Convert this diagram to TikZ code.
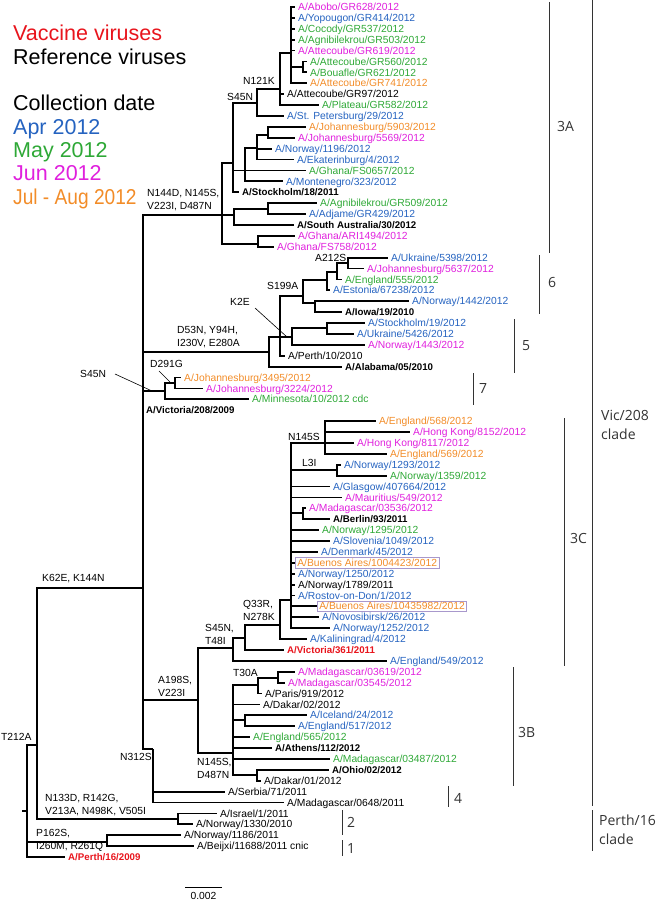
\documentclass[tikz,border=0pt]{standalone}
\usepackage{fontspec}
\setmainfont{Liberation Sans}
\newfontfamily\brfont{Open Sans}
\definecolor{cblue}{HTML}{2563C0}
\definecolor{cgreen}{HTML}{2EA836}
\definecolor{cmag}{HTML}{E020DD}
\definecolor{corange}{HTML}{F28C28}
\definecolor{cred}{HTML}{E8141C}
\definecolor{cbox}{HTML}{A898CC}
\definecolor{cbr}{HTML}{333333}
\begin{document}
\begin{tikzpicture}[x=1pt,y=-1pt,
  brn/.style={line width=1.8pt, black},
  lf/.style={anchor=west, inner xsep=3pt, inner ysep=0pt, text height=7.3pt, text depth=0pt, font=\fontsize{10.3}{12}\selectfont},
  refv/.style={lf, font=\fontsize{9.7}{12}\selectfont\bfseries},
  bxd/.style={lf, draw=cbox, line width=0.7pt, inner xsep=2pt, inner ysep=1.4pt, text depth=0.8pt},
  mut/.style={anchor=west, inner sep=0pt, align=left, font=\fontsize{10.3}{13}\selectfont},
  ptr/.style={line width=0.6pt},
  bkt/.style={line width=1pt, cbr},
  bkl/.style={anchor=west, inner sep=0pt, align=left, font=\brfont\fontsize{14}{19}\selectfont, text=cbr},
  leg/.style={anchor=base west, inner sep=0pt, font=\fontsize{21.5}{26}\selectfont}
]
\useasboundingbox (0,0) rectangle (660,901);
% legend
\node[leg,text=cred] (lg1) at (13,41) {Vaccine viruses};
\node[leg] (lg2) at (13,64.3) {Reference viruses};
\node[leg] (lg3) at (13,111) {Collection date};
\node[leg,text=cblue] (lg4) at (13,134.3) {Apr 2012};
\node[leg,text=cgreen] (lg5) at (13,157.6) {May 2012};
\node[leg,text=cmag] (lg6) at (13,180.9) {Jun 2012};
\node[leg,text=corange] (lg7) at (13,204.2) {\scalebox{0.89}[1]{Jul - Aug 2012}};
% internal nodes
\coordinate (nroot) at (27,811);
\coordinate (rstub) at (22,811);
\coordinate (nR37) at (37,745);
\coordinate (nVIC) at (143,588);
\coordinate (nH0) at (222,215);
\coordinate (nK) at (233,163);
\coordinate (nA) at (257,103);
\coordinate (nB) at (280,89);
\coordinate (nC) at (291,53);
\coordinate (nD) at (303,67);
\coordinate (nE) at (245,170.5);
\coordinate (nF) at (257,148);
\coordinate (nG) at (268,135);
\coordinate (nI) at (234,215);
\coordinate (nJ) at (268,209);
\coordinate (nH) at (258,244);
\coordinate (nM) at (269,352);
\coordinate (nL) at (280,337);
\coordinate (nS) at (303,296);
\coordinate (nU) at (327,280);
\coordinate (nV6) at (337,272);
\coordinate (nX6) at (348,263);
\coordinate (nW) at (315,303);
\coordinate (nT) at (292,337);
\coordinate (nY5) at (327,328);
\coordinate (nN7) at (165,391);
\coordinate (nO7) at (175,383);
\coordinate (nV) at (198,700);
\coordinate (nN45) at (233,648);
\coordinate (nU3) at (245,638);
\coordinate (nQ) at (280,625);
\coordinate (nR) at (291,600);
\coordinate (nN145) at (325,443);
\coordinate (nL3) at (337,470);
\coordinate (nMB) at (303,513);
\coordinate (nX) at (233,753);
\coordinate (nT30) at (258,685);
\coordinate (nMM) at (278,678);
\coordinate (nW3) at (245,720);
\coordinate (nOD) at (257,775);
\coordinate (nN312) at (153,749);
\coordinate (nN133) at (178,819);
\coordinate (nP162) at (107,842);
% leaves
\node[lf,text=cmag] (l1) at (295,7.0) {A/Abobo/GR628/2012};
\node[lf,text=cblue] (l2) at (295,17.9) {A/Yopougon/GR414/2012};
\node[lf,text=cgreen] (l3) at (295,28.8) {A/Cocody/GR537/2012};
\node[lf,text=cgreen] (l4) at (295,39.7) {A/Agnibilekrou/GR503/2012};
\node[lf,text=cmag] (l5) at (295,50.6) {A/Attecoube/GR619/2012};
\node[lf,text=cgreen] (l6) at (307,61.5) {A/Attecoube/GR560/2012};
\node[lf,text=cgreen] (l7) at (307,72.4) {A/Bouafle/GR621/2012};
\node[lf,text=corange] (l8) at (307,83.3) {A/Attecoube/GR741/2012};
\node[lf] (l9) at (284,94.2) {A/Attecoube/GR97/2012};
\node[lf,text=cgreen] (l10) at (319,105.1) {A/Plateau/GR582/2012};
\node[lf,text=cblue] (l11) at (284,116.0) {A/St. Petersburg/29/2012};
\node[lf,text=corange] (l12) at (306,126.9) {A/Johannesburg/5903/2012};
\node[lf,text=cmag] (l13) at (295,137.8) {A/Johannesburg/5569/2012};
\node[lf,text=cblue] (l14) at (272,148.7) {A/Norway/1196/2012};
\node[lf,text=cblue] (l15) at (294,159.6) {A/Ekaterinburg/4/2012};
\node[lf,text=cgreen] (l16) at (306,170.5) {A/Ghana/FS0657/2012};
\node[lf,text=cblue] (l17) at (283,181.4) {A/Montenegro/323/2012};
\node[refv] (l18) at (239,192.2) {A/Stockholm/18/2011};
\node[lf,text=cgreen] (l19) at (317,203.1) {A/Agnibilekrou/GR509/2012};
\node[lf,text=cblue] (l20) at (306,214.0) {A/Adjame/GR429/2012};
\node[refv] (l21) at (294,224.9) {A/South Australia/30/2012};
\node[lf,text=cmag] (l22) at (295,235.8) {A/Ghana/ARI1494/2012};
\node[lf,text=cmag] (l23) at (274,246.7) {A/Ghana/FS758/2012};
\node[lf,text=cblue] (l24) at (388,257.6) {A/Ukraine/5398/2012};
\node[lf,text=cmag] (l25) at (364,268.5) {A/Johannesburg/5637/2012};
\node[lf,text=cgreen] (l26) at (342,279.4) {A/England/555/2012};
\node[lf,text=cblue] (l27) at (330,290.3) {A/Estonia/67238/2012};
\node[lf,text=cblue] (l28) at (409,301.2) {A/Norway/1442/2012};
\node[refv] (l29) at (342,312.1) {A/Iowa/19/2010};
\node[lf,text=cblue] (l30) at (365,323.0) {A/Stockholm/19/2012};
\node[lf,text=cblue] (l31) at (354,333.9) {A/Ukraine/5426/2012};
\node[lf,text=cmag] (l32) at (365,344.8) {A/Norway/1443/2012};
\node[lf] (l33) at (285,355.7) {A/Perth/10/2010};
\node[refv] (l34) at (342,366.6) {A/Alabama/05/2010};
\node[lf,text=corange] (l35) at (181,377.5) {A/Johannesburg/3495/2012};
\node[lf,text=cmag] (l36) at (203,388.4) {A/Johannesburg/3224/2012};
\node[lf,text=cgreen] (l37) at (249,399.3) {A/Minnesota/10/2012 cdc};
\node[refv] (l38) at (143,410.2) {A/Victoria/208/2009};
\node[lf,text=corange] (l39) at (376,421.1) {A/England/568/2012};
\node[lf,text=cmag] (l40) at (410,432.0) {A/Hong Kong/8152/2012};
\node[lf,text=cmag] (l41) at (354,442.9) {A/Hong Kong/8117/2012};
\node[lf,text=corange] (l42) at (387,453.8) {A/England/569/2012};
\node[lf,text=cblue] (l43) at (341,464.7) {A/Norway/1293/2012};
\node[lf,text=cgreen] (l44) at (387,475.6) {A/Norway/1359/2012};
\node[lf,text=cblue] (l45) at (330,486.5) {A/Glasgow/407664/2012};
\node[lf,text=cmag] (l46) at (342,497.4) {A/Mauritius/549/2012};
\node[lf,text=cmag] (l47) at (306,508.3) {A/Madagascar/03536/2012};
\node[refv] (l48) at (330,519.2) {A/Berlin/93/2011};
\node[lf,text=cgreen] (l49) at (319,530.1) {A/Norway/1295/2012};
\node[lf,text=cblue] (l50) at (330,541.0) {A/Slovenia/1049/2012};
\node[lf,text=cblue] (l51) at (318,551.9) {A/Denmark/45/2012};
\node[bxd,text=corange] (l52) at (295,562.8) {A/Buenos Aires/1004423/2012};
\node[lf,text=cblue] (l53) at (295,573.7) {A/Norway/1250/2012};
\node[lf] (l54) at (295,584.6) {A/Norway/1789/2011};
\node[lf,text=cblue] (l55) at (295,595.4) {A/Rostov-on-Don/1/2012};
\node[bxd,text=corange] (l56) at (317,606.3) {A/Buenos Aires/10435982/2012};
\node[lf,text=cblue] (l57) at (319,617.2) {A/Novosibirsk/26/2012};
\node[lf,text=cblue] (l58) at (330,628.1) {A/Norway/1252/2012};
\node[lf,text=cblue] (l59) at (307,639.0) {A/Kaliningrad/4/2012};
\node[refv,text=cred] (l60) at (284,649.9) {A/Victoria/361/2011};
\node[lf,text=cblue] (l61) at (387,660.8) {A/England/549/2012};
\node[lf,text=cmag] (l62) at (295,671.7) {A/Madagascar/03619/2012};
\node[lf,text=cmag] (l63) at (285,682.6) {A/Madagascar/03545/2012};
\node[lf] (l64) at (262,693.5) {A/Paris/919/2012};
\node[lf] (l65) at (260,704.4) {A/Dakar/02/2012};
\node[lf,text=cblue] (l66) at (307,715.3) {A/Iceland/24/2012};
\node[lf,text=cblue] (l67) at (295,726.2) {A/England/517/2012};
\node[lf,text=cgreen] (l68) at (250,737.1) {A/England/565/2012};
\node[refv] (l69) at (272,748.0) {A/Athens/112/2012};
\node[lf,text=cgreen] (l70) at (330,758.9) {A/Madagascar/03487/2012};
\node[refv] (l71) at (329,769.8) {A/Ohio/02/2012};
\node[lf] (l72) at (261,780.7) {A/Dakar/01/2012};
\node[lf] (l73) at (225,791.6) {A/Serbia/71/2011};
\node[lf] (l74) at (284,802.5) {A/Madagascar/0648/2011};
\node[lf] (l75) at (217,813.4) {A/Israel/1/2011};
\node[lf] (l76) at (193,824.3) {A/Norway/1330/2010};
\node[lf] (l77) at (181,835.2) {A/Norway/1186/2011};
\node[lf] (l78) at (194,846.1) {A/Beijxi/11688/2011 cnic};
\node[refv,text=cred] (l79) at (65,857.0) {A/Perth/16/2009};
% branches
\draw[brn] (nroot) -- (rstub);
\draw[brn] (nroot) |- (nR37);
\draw[brn] (nroot) |- (nP162);
\draw[brn] (nroot) |- (l79.west);
\draw[brn] (nR37) |- (nVIC);
\draw[brn] (nR37) |- (nN133);
\foreach \c in {nH0,nM,nN7,l38.west,nV,nN312} \draw[brn] (nVIC) |- (\c);
\foreach \c in {nK,nI,nH} \draw[brn] (nH0) |- (\c);
\foreach \c in {nA,nE,l18.west} \draw[brn] (nK) |- (\c);
\foreach \c in {nB,l11.west} \draw[brn] (nA) |- (\c);
\foreach \c in {nC,l9.west,l10.west} \draw[brn] (nB) |- (\c);
\foreach \c in {l1.west,l2.west,l3.west,l4.west,l5.west,nD,l8.west} \draw[brn] (nC) |- (\c);
\foreach \c in {l6.west,l7.west} \draw[brn] (nD) |- (\c);
\foreach \c in {nF,l16.west,l17.west} \draw[brn] (nE) |- (\c);
\foreach \c in {nG,l14.west,l15.west} \draw[brn] (nF) |- (\c);
\foreach \c in {l12.west,l13.west} \draw[brn] (nG) |- (\c);
\foreach \c in {nJ,l21.west} \draw[brn] (nI) |- (\c);
\foreach \c in {l19.west,l20.west} \draw[brn] (nJ) |- (\c);
\foreach \c in {l22.west,l23.west} \draw[brn] (nH) |- (\c);
\foreach \c in {nL,l34.west} \draw[brn] (nM) |- (\c);
\foreach \c in {nS,nT,l33.west} \draw[brn] (nL) |- (\c);
\foreach \c in {nU,nW} \draw[brn] (nS) |- (\c);
\foreach \c in {nV6,l27.west} \draw[brn] (nU) |- (\c);
\foreach \c in {nX6,l26.west} \draw[brn] (nV6) |- (\c);
\foreach \c in {l24.west,l25.west} \draw[brn] (nX6) |- (\c);
\foreach \c in {l28.west,l29.west} \draw[brn] (nW) |- (\c);
\foreach \c in {nY5,l32.west} \draw[brn] (nT) |- (\c);
\foreach \c in {l30.west,l31.west} \draw[brn] (nY5) |- (\c);
\foreach \c in {nO7,l37.west} \draw[brn] (nN7) |- (\c);
\foreach \c in {l35.west,l36.west} \draw[brn] (nO7) |- (\c);
\foreach \c in {nN45,nX} \draw[brn] (nV) |- (\c);
\foreach \c in {nU3,l61.west} \draw[brn] (nN45) |- (\c);
\foreach \c in {nQ,l60.west} \draw[brn] (nU3) |- (\c);
\foreach \c in {nR,l59.west} \draw[brn] (nQ) |- (\c);
\foreach \c in {nN145,nL3,l45.west,l46.west,nMB,l49.west,l50.west,l51.west,l52.west,l53.west,l54.west,l55.west,l56.west,l57.west,l58.west} \draw[brn] (nR) |- (\c);
\foreach \c in {l39.west,l40.west,l41.west,l42.west} \draw[brn] (nN145) |- (\c);
\foreach \c in {l43.west,l44.west} \draw[brn] (nL3) |- (\c);
\foreach \c in {l47.west,l48.west} \draw[brn] (nMB) |- (\c);
\foreach \c in {nT30,l65.west,nW3,l68.west,l69.west,l70.west,nOD} \draw[brn] (nX) |- (\c);
\foreach \c in {nMM,l64.west} \draw[brn] (nT30) |- (\c);
\foreach \c in {l62.west,l63.west} \draw[brn] (nMM) |- (\c);
\foreach \c in {l66.west,l67.west} \draw[brn] (nW3) |- (\c);
\foreach \c in {l71.west,l72.west} \draw[brn] (nOD) |- (\c);
\foreach \c in {l73.west,l74.west} \draw[brn] (nN312) |- (\c);
\foreach \c in {l75.west,l76.west} \draw[brn] (nN133) |- (\c);
\foreach \c in {l77.west,l78.west} \draw[brn] (nP162) |- (\c);
% mutation labels
\node[mut] (m1) at (243,81) {N121K};
\node[mut] (m2) at (227,96.5) {S45N};
\node[mut] (m3) at (147,200.5) {N144D, N145S,\\V223I, D487N};
\node[mut] (m4) at (315,258) {A212S};
\node[mut] (m5) at (267,286) {S199A};
\node[mut] (m6) at (230,302) {K2E};
\node[mut] (m7) at (177,337) {D53N, Y94H,\\I230V, E280A};
\node[mut] (m8) at (150,364) {D291G};
\node[mut] (m9) at (80,374) {S45N};
\node[mut] (m10) at (288,437) {N145S};
\node[mut] (m11) at (302,463) {L3I};
\node[mut] (m12) at (243,610) {Q33R,\\N278K};
\node[mut] (m13) at (205,634.5) {S45N,\\T48I};
\node[mut] (m14) at (158,686) {A198S,\\V223I};
\node[mut] (m15) at (233,673) {T30A};
\node[mut] (m16) at (197,768.5) {N145S,\\D487N};
\node[mut] (m17) at (120,757) {N312S};
\node[mut] (m18) at (42,579) {K62E, K144N};
\node[mut] (m19) at (1,737) {T212A};
\node[mut] (m20) at (45,805) {N133D, R142G,\\V213A, N498K, V505I};
\node[mut] (m21) at (36,840.5) {P162S,\\I260M, R261Q};
% pointers
\coordinate (pK1) at (255,308); \coordinate (pK2) at (287,337);
\coordinate (pD1) at (159,371); \coordinate (pD2) at (170,382);
\coordinate (pS1) at (115,374); \coordinate (pS2) at (152,391);
\draw[ptr] (pK1) -- (pK2);
\draw[ptr] (pD1) -- (pD2);
\draw[ptr] (pS1) -- (pS2);
% clade brackets
\draw[bkt] (549,2) -- (549,253);
\node[bkl] (b3A) at (557,127) {3A};
\draw[bkt] (539,255) -- (539,314);
\node[bkl] (b6) at (548,282) {6};
\draw[bkt] (514,319) -- (514,373);
\node[bkl] (b5) at (522,346) {5};
\draw[bkt] (473,373) -- (473,405);
\node[bkl] (b7) at (479,389) {7};
\draw[bkt] (592,0) -- (592,806);
\node[bkl] (bvic) at (601,425) {Vic/208\\clade};
\draw[bkt] (564,418) -- (564,666);
\node[bkl] (b3C) at (570,538) {3C};
\draw[bkt] (513,667) -- (513,786);
\node[bkl] (b3B) at (518,732) {3B};
\draw[bkt] (448,786) -- (448,807);
\node[bkl] (b4) at (454,798) {4};
\draw[bkt] (342,810) -- (342,835);
\node[bkl] (b2) at (347,822) {2};
\draw[bkt] (342,840) -- (342,856);
\node[bkl] (b1) at (347,848) {1};
\draw[bkt] (592,810) -- (592,851);
\node[bkl] (bper) at (599,830) {Perth/16\\clade};
% scale bar
\coordinate (sb1) at (185,887); \coordinate (sb2) at (222,887);
\draw[line width=1pt] (sb1) -- (sb2);
\node[anchor=base, inner sep=0pt, font=\fontsize{10.3}{12}\selectfont] (sbl) at (203.5,899.5) {0.002};
\end{tikzpicture}
\end{document}
